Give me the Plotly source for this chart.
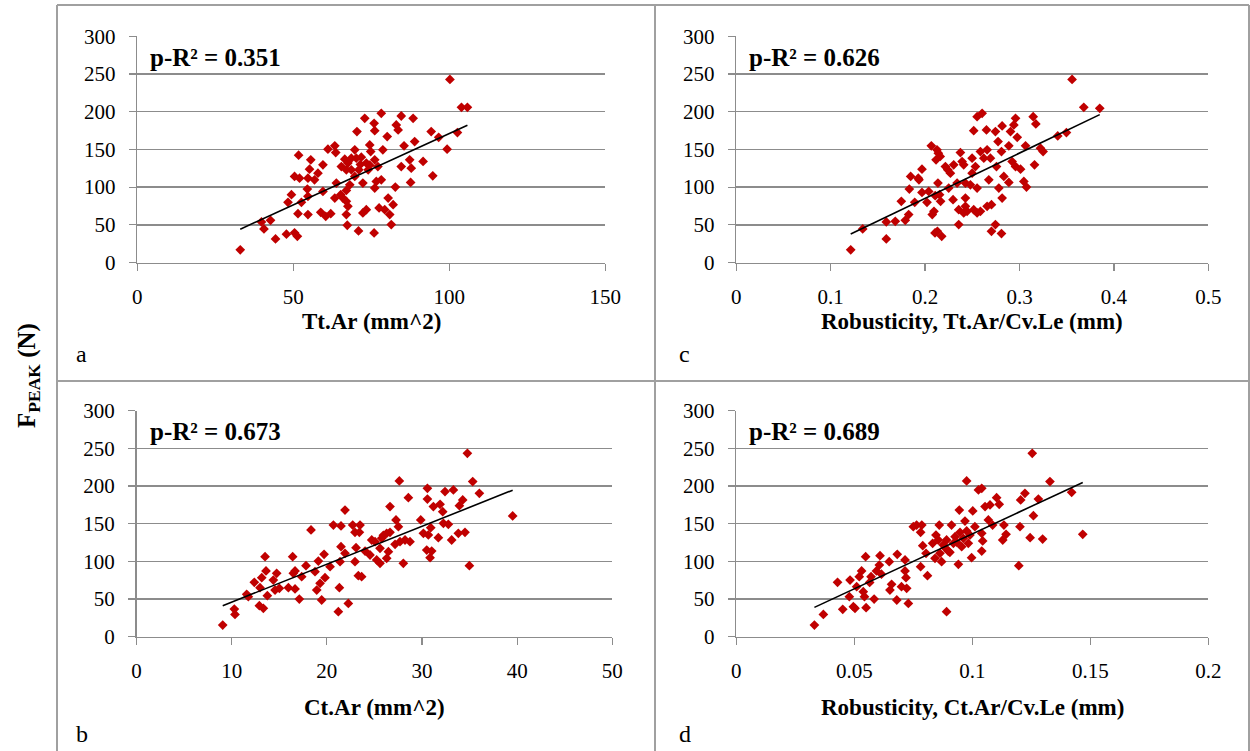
import numpy as np
import plotly.graph_objects as go

W, H = 1250, 751

# ---------------- data ----------------
y_ticks = [0, 50, 100, 150, 200, 250, 300]

a_x = [33.0, 39.8, 40.6, 42.7, 44.3, 47.8, 50.4, 51.3, 51.5, 54.7,
       48.3, 49.4, 52.6, 54.7, 50.4, 52.0, 54.7, 55.2, 56.8, 57.9,
       55.6, 51.7, 59.5, 54.5, 59.5, 58.8, 60.4, 62.0, 61.1, 63.3,
       63.6, 63.8, 63.3, 65.2, 65.4, 66.5, 67.5, 67.0, 68.6, 70.2,
       68.6, 69.7, 68.1, 67.0, 65.9, 67.0, 67.5, 67.0, 67.3, 70.9,
       69.7, 70.4, 71.8, 72.9, 75.9, 76.1, 78.2, 74.5, 74.8, 73.4,
       74.0, 76.1, 77.1, 72.3, 72.3, 73.4, 76.1, 76.6, 78.2, 77.5,
       79.3, 80.9, 80.4, 82.0, 81.4, 75.9, 78.7, 80.1, 83.0, 83.6,
       84.6, 88.4, 85.5, 84.6, 87.3, 87.8, 88.9, 91.6, 87.6, 82.7,
       94.2, 96.6, 94.7, 99.3, 102.6, 100.2, 103.9, 105.8,
       71.0, 71.5, 74.5]
a_y = [16.8, 53.8, 44.5, 56.0, 31.3, 37.5, 39.3, 34.8, 64.8, 63.5,
       79.8, 89.9, 79.8, 87.7, 114.1, 111.9, 111.9, 123.8, 109.7, 118.5,
       136.2, 142.3, 129.5, 97.4, 94.3, 66.6, 61.3, 64.8, 150.3, 154.7,
       145.8, 105.3, 85.5, 89.9, 127.3, 137.0, 131.8, 123.0, 138.4, 138.4,
       123.0, 114.1, 103.1, 95.6, 85.5, 81.1, 74.5, 63.5, 49.4, 41.9,
       149.4, 173.6, 139.7, 191.2, 184.6, 174.9, 197.8, 156.0, 147.2, 131.8,
       123.0, 136.2, 127.3, 105.3, 65.7, 70.1, 98.7, 107.5, 109.7, 72.3,
       70.1, 63.5, 85.5, 76.7, 50.3, 39.2, 149.4, 167.0, 182.4, 175.8,
       194.3, 191.2, 154.7, 127.3, 136.2, 125.1, 160.4, 134.0, 106.2, 100.0,
       173.6, 166.1, 115.0, 150.3, 172.3, 242.8, 205.8, 205.8,
       123.0, 130.0, 129.0]

c_x = [0.1212, 0.1339, 0.1589, 0.1589, 0.1684, 0.1790, 0.1826, 0.1748, 0.1890, 0.1833,
       0.1967, 0.2020, 0.2038, 0.1847, 0.1928, 0.1967, 0.1935, 0.2076, 0.2094, 0.2105,
       0.2176, 0.2130, 0.2066, 0.2126, 0.2140, 0.2116, 0.2160, 0.2136, 0.2107, 0.2153,
       0.2164, 0.2215, 0.2240, 0.2268, 0.2303, 0.2250, 0.2296, 0.2356, 0.2356, 0.2374,
       0.2409, 0.2392, 0.2339, 0.2427, 0.2427, 0.2427, 0.2409, 0.2445, 0.2515, 0.2551,
       0.2586, 0.2498, 0.2533, 0.2498, 0.2480, 0.2551, 0.2515, 0.2551, 0.2604, 0.2650,
       0.2586, 0.2657, 0.2622, 0.2692, 0.2675, 0.2657, 0.2703, 0.2703, 0.2745, 0.2809,
       0.2745, 0.2773, 0.2809, 0.2756, 0.2816, 0.2834, 0.2781, 0.2816, 0.2887, 0.2905,
       0.2940, 0.2958, 0.2922, 0.2958, 0.3011, 0.2887, 0.2976, 0.3046, 0.3074, 0.3064,
       0.3159, 0.3145, 0.3173, 0.3222, 0.3250, 0.3405, 0.3497, 0.3557, 0.3681, 0.3850]
c_y = [16.8, 44.5, 31.3, 53.8, 54.7, 56.0, 63.5, 81.1, 79.8, 97.4,
       93.0, 79.8, 94.3, 114.1, 111.9, 123.8, 109.7, 63.5, 67.9, 39.2,
       34.8, 41.4, 154.7, 149.4, 145.0, 136.2, 140.6, 105.3, 88.6, 89.9,
       81.1, 127.3, 123.0, 118.5, 129.5, 98.7, 83.3, 70.1, 50.3, 145.8,
       129.5, 133.9, 105.3, 105.3, 85.5, 74.5, 65.7, 67.9, 70.1, 65.7,
       67.9, 138.4, 127.3, 118.5, 103.1, 98.7, 174.9, 193.4, 197.8, 175.8,
       147.2, 149.4, 138.4, 138.4, 109.7, 74.5, 76.7, 41.4, 50.3, 38.4,
       173.6, 160.4, 147.2, 127.3, 181.1, 114.1, 98.7, 85.5, 154.7, 173.6,
       182.4, 191.2, 133.9, 127.3, 123.8, 106.2, 166.1, 107.5, 100.0, 154.7,
       129.5, 193.4, 183.7, 151.6, 147.2, 167.9, 172.3, 242.8, 205.8, 204.5]

b_x = [9.06, 10.28, 10.35, 11.75, 11.58, 12.38, 12.98, 13.16, 13.61, 13.51,
       12.91, 13.33, 13.75, 14.38, 14.73, 14.56, 15.01, 15.96, 16.66, 16.48,
       16.66, 17.36, 17.81, 16.41, 17.11, 18.34, 18.76, 19.11, 19.71, 18.94,
       19.29, 19.81, 19.46, 20.34, 20.69, 21.49, 21.91, 21.39, 21.49, 21.91,
       21.32, 21.21, 22.26, 22.72, 22.96, 23.49, 23.42, 23.07, 22.96, 23.31,
       23.66, 24.02, 24.54, 24.72, 25.07, 25.24, 25.59, 25.77, 25.94, 26.29,
       26.64, 25.59, 26.29, 26.47, 26.64, 27.27, 27.52, 27.17, 27.69, 28.04,
       28.22, 28.74, 27.62, 28.57, 29.87, 30.15, 30.67, 30.50, 30.85, 31.02,
       30.57, 30.57, 31.20, 30.92, 31.72, 31.90, 32.18, 32.25, 32.42, 32.77,
       33.12, 33.30, 33.82, 33.93, 34.28, 34.52, 34.98, 34.77, 35.33, 36.03,
       39.53]
b_y = [15.5, 36.7, 29.6, 53.1, 56.2, 72.1, 65.0, 78.3, 87.2, 106.2,
       41.2, 37.6, 54.4, 75.2, 84.1, 61.9, 64.2, 65.0, 63.3, 84.1,
       87.2, 79.6, 94.2, 106.2, 50.0, 141.6, 86.3, 100.4, 109.3, 61.9,
       70.8, 78.3, 48.7, 92.9, 148.2, 146.9, 168.1, 99.6, 119.5, 110.6,
       65.0, 33.2, 44.2, 148.2, 138.5, 148.2, 138.5, 118.1, 99.6, 81.0,
       79.6, 113.7, 108.4, 128.3, 126.1, 101.8, 117.3, 130.5, 134.5, 137.2,
       138.5, 97.3, 104.0, 112.8, 172.6, 154.9, 146.0, 122.6, 126.1, 97.3,
       128.3, 126.1, 206.6, 184.5, 154.9, 137.2, 135.0, 115.0, 104.9, 113.7,
       196.9, 182.7, 172.6, 144.7, 131.4, 175.7, 165.9, 150.4, 192.5, 149.1,
       128.3, 194.7, 137.2, 173.9, 181.4, 138.5, 94.2, 243.4, 205.8, 190.3,
       160.2]

d_x = [0.0331, 0.0369, 0.0429, 0.0451, 0.0479, 0.0482, 0.0496, 0.0503, 0.0510, 0.0521,
       0.0531, 0.0538, 0.0543, 0.0548, 0.0550, 0.0571, 0.0584, 0.0594, 0.0606, 0.0609,
       0.0648, 0.0651, 0.0658, 0.0680, 0.0682, 0.0700, 0.0715, 0.0719, 0.0715, 0.0722,
       0.0729, 0.0750, 0.0764, 0.0781, 0.0786, 0.0781, 0.0790, 0.0810, 0.0804, 0.0832,
       0.0842, 0.0846, 0.0860, 0.0856, 0.0863, 0.0870, 0.0891, 0.0877, 0.0891, 0.0898,
       0.0912, 0.0920, 0.0927, 0.0941, 0.0945, 0.0948, 0.0955, 0.0962, 0.0969, 0.0976,
       0.0976, 0.0983, 0.0990, 0.0997, 0.1002, 0.1011, 0.1026, 0.1040, 0.1040, 0.1044,
       0.1040, 0.1054, 0.1068, 0.1075, 0.1086, 0.1103, 0.1114, 0.1129, 0.1134, 0.1143,
       0.1197, 0.1202, 0.1205, 0.1223, 0.1245, 0.1254, 0.1259, 0.1280, 0.1298, 0.1329,
       0.1421, 0.1468, 0.0885, 0.0935, 0.0905, 0.0565, 0.0615]
d_y = [15.5, 29.6, 72.1, 36.3, 53.1, 75.2, 39.8, 37.6, 66.4, 79.6,
       87.2, 59.7, 53.1, 106.2, 38.5, 79.6, 50.0, 87.2, 95.1, 107.5,
       99.6, 61.9, 69.5, 48.7, 109.3, 66.4, 87.2, 78.3, 101.8, 64.2,
       44.2, 146.0, 148.2, 138.5, 148.2, 92.9, 120.8, 81.0, 110.6, 123.9,
       104.0, 134.9, 148.2, 128.3, 110.6, 99.6, 33.2, 121.7, 128.3, 113.7,
       148.2, 123.9, 132.7, 96.0, 168.1, 138.5, 119.5, 130.5, 153.5, 140.3,
       206.6, 123.9, 134.9, 104.9, 166.8, 146.0, 194.7, 196.9, 137.2, 127.0,
       113.7, 172.6, 154.9, 174.8, 148.2, 184.5, 175.7, 128.3, 148.2, 135.8,
       94.2, 146.0, 181.4, 190.3, 131.4, 243.4, 160.6, 182.7, 129.6, 205.8,
       191.6, 135.8, 118.0, 125.0, 112.0, 72.0, 83.0]

panels = [
    dict(key="a", x=a_x, y=a_y, xr=[0, 150], tv=[0, 50, 100, 150], tt=["0", "50", "100", "150"],
         title="Tt.Ar (mm^2)", r2="p-R² = 0.351"),
    dict(key="c", x=c_x, y=c_y, xr=[0, 0.5], tv=[0, 0.1, 0.2, 0.3, 0.4, 0.5],
         tt=["0", "0.1", "0.2", "0.3", "0.4", "0.5"],
         title="Robusticity, Tt.Ar/Cv.Le (mm)", r2="p-R² = 0.626"),
    dict(key="b", x=b_x, y=b_y, xr=[0, 50], tv=[0, 10, 20, 30, 40, 50],
         tt=["0", "10", "20", "30", "40", "50"],
         title="Ct.Ar (mm^2)", r2="p-R² = 0.673"),
    dict(key="d", x=d_x, y=d_y, xr=[0, 0.2], tv=[0, 0.05, 0.1, 0.15, 0.2],
         tt=["0", "0.05", "0.1", "0.15", "0.2"],
         title="Robusticity, Ct.Ar/Cv.Le (mm)", r2="p-R² = 0.689"),
]

# ---------------- layout geometry (pixels) ----------------
def fx(px):
    return px / W

def fy(py):
    return 1 - py / H

boxes = {
    "a": (137.3, 605.3, 36.3, 262.5),
    "c": (736.3, 1208.3, 36.3, 262.5),
    "b": (136.5, 612.3, 410.6, 636.7),
    "d": (736.3, 1208.3, 410.6, 636.7),
}
title_y = {"a": 322, "c": 322, "b": 707, "d": 707}
letter_y = {"a": 354, "c": 354, "b": 734, "d": 734}

FONT = "Liberation Serif, Times New Roman, serif"
GRID = "#8c8c8c"
RED = "#C00000"

fig = go.Figure()
layout = dict(
    width=W, height=H, margin=dict(l=0, r=0, t=0, b=0, pad=0, autoexpand=False),
    paper_bgcolor="white", plot_bgcolor="white", showlegend=False,
    font=dict(family=FONT, size=21, color="black"),
)
annotations = []
shapes = []

for i, p in enumerate(panels):
    n = "" if i == 0 else str(i + 1)
    xa, ya = "x" + n, "y" + n
    L, R, T, B = boxes[p["key"]]
    fig.add_trace(go.Scatter(
        x=p["x"], y=p["y"], mode="markers", xaxis=xa, yaxis=ya,
        marker=dict(symbol="diamond", size=7.5, color=RED, line=dict(width=0)),
        hoverinfo="skip"))
    xs = np.array(p["x"], dtype=float)
    ys = np.array(p["y"], dtype=float)
    k, c0 = np.polyfit(xs, ys, 1)
    xl = np.array([xs.min(), xs.max()])
    fig.add_trace(go.Scatter(
        x=xl, y=k * xl + c0, mode="lines", xaxis=xa, yaxis=ya,
        line=dict(color="black", width=1.6), hoverinfo="skip"))

    layout["xaxis" + n] = dict(
        domain=[fx(L), fx(R)], range=p["xr"], anchor=ya, automargin=False,
        tickvals=p["tv"], ticktext=p["tt"], showgrid=False, zeroline=False,
        showline=True, linecolor=GRID, linewidth=1.5,
        ticks="outside", ticklen=7, tickwidth=1.2, tickcolor=GRID,
        ticklabelstandoff=8, tickfont=dict(family=FONT, size=21, color="black"),
    )
    layout["yaxis" + n] = dict(
        domain=[fy(B), fy(T)], range=[0, 300], anchor=xa, automargin=False,
        tickvals=y_ticks, showgrid=True, gridcolor=GRID, gridwidth=1.5,
        zeroline=False, showline=True, linecolor=GRID, linewidth=1.5,
        ticks="outside", ticklen=7, tickwidth=1.2, tickcolor=GRID,
        ticklabelstandoff=9, tickfont=dict(family=FONT, size=21, color="black"),
    )
    annotations.append(dict(
        x=fx(L + 11), y=fy(T + 21), xref="paper", yref="paper",
        text="<b>" + p["r2"] + "</b>", showarrow=False,
        xanchor="left", yanchor="middle", font=dict(family=FONT, size=25)))
    cx = (L + R) / 2
    annotations.append(dict(
        x=fx(cx), y=fy(title_y[p["key"]]), xref="paper", yref="paper",
        text="<b>" + p["title"] + "</b>", showarrow=False,
        xanchor="center", yanchor="middle", font=dict(family=FONT, size=23)))
    lx = 74 if p["key"] in ("a", "b") else 677
    annotations.append(dict(
        x=fx(lx), y=fy(letter_y[p["key"]]), xref="paper", yref="paper",
        text=p["key"], showarrow=False, xanchor="left", yanchor="middle",
        font=dict(family=FONT, size=24)))

annotations.append(dict(
    x=fx(28), y=fy(376), xref="paper", yref="paper",
    text="<b>F<sub>PEAK</sub> (N)</b>", showarrow=False, textangle=-90,
    xanchor="center", yanchor="middle", font=dict(family=FONT, size=25)))

FRAME = "#a0a0a0"
for (x0, y0, x1, y1) in [(57, 5, 57, 760), (57, 5, 1249, 5), (1249, 5, 1249, 760),
                         (655, 5, 655, 760), (57, 381, 1249, 381)]:
    shapes.append(dict(type="line", xref="paper", yref="paper",
                       x0=fx(x0), y0=fy(y0), x1=fx(x1), y1=fy(y1),
                       line=dict(color=FRAME, width=2)))

layout["annotations"] = annotations
layout["shapes"] = shapes
fig.update_layout(**layout)
fig.write_html("out.html", config={"displayModeBar": False, "staticPlot": True},
               post_script="document.body.style.margin='0';document.body.style.overflow='hidden';")
